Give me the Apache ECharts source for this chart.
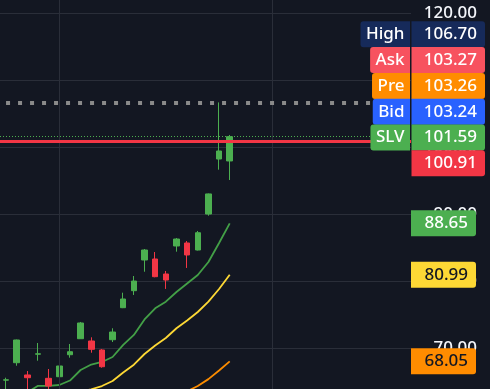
<!DOCTYPE html>
<html><head><meta charset="utf-8">
<script src="https://cdn.jsdelivr.net/npm/echarts@6/dist/echarts.min.js"></script>
<style>html,body{margin:0;padding:0;background:#131722;}#c{width:490px;height:389px;}</style>
</head><body><div id="c"></div>
<script>
// ---- data ----
const candleIdx = [0,1,2,3,4,5,6,7,8,9,10,11,12,13,14,15,16,17,18,19,20,21];
const opens  = [65.25,67.85,66.02,69.12,65.52,65.76,69.04,71.43,71.09,69.75,71.28,76.06,78.60,83.18,83.33,81.09,85.27,85.72,84.67,90.04,98.25,97.96];
const closes = [65.30,71.24,65.61,69.18,64.37,67.36,69.49,73.78,69.85,67.25,72.43,77.36,80.04,84.67,80.69,80.19,86.31,83.93,87.25,93.04,99.45,101.59];
const lows   = [62.50,67.40,63.00,68.15,63.40,64.78,68.60,71.40,69.34,67.10,70.94,76.00,77.96,81.43,80.60,78.86,84.42,81.99,84.60,89.79,96.66,95.12];
const highs  = [65.61,71.30,66.61,70.79,66.91,67.40,70.64,73.93,71.64,69.90,72.99,78.30,80.79,84.82,84.37,81.54,86.46,86.01,87.51,93.10,106.70,101.84];

const maFastStart = 2;
const maFast = [63.42,64.40,64.40,64.52,65.19,66.76,67.58,67.96,68.70,70.50,71.99,74.30,75.97,76.96,78.40,79.67,80.94,82.88,85.72,88.65];
const maMidStart = 7;
const maMid  = [63.55,63.88,64.37,65.12,66.39,67.55,69.15,70.42,71.54,72.99,74.15,75.42,76.96,78.85,80.99];
const maSlowStart = 17;
const maSlow = [63.58,64.37,65.40,66.69,68.05];

const tagNames  = ['High','Ask','Pre','Bid','SLV',''];
const tagValues = [106.70,103.27,103.26,103.24,101.59,100.91];
const vGridAt = [5,25];

// ---- styles ----
const BG = '#131722', GRID = '#2a2e39';
const GREEN = '#4caf50', RED = '#f23645';
const tagFill = ['#162a5a','#f7525f','#ff8c00','#2962ff','#4caf50','#f23645'];
const maColors = ['#43a047','#fdd835','#fb8c00'];
const maTagFill = ['#4caf50','#fdd835','#ff8c00'];
const maTagText = ['#ffffff','#131722','#131722'];
const FONT = 'Noto Sans';
const FW = 500;
const FS = 17;
const FONT_CSS = FW + ' ' + FS + 'px "' + FONT + '"';

const X_MIN = -0.568, X_MAX = 38.02;

const chart = echarts.init(document.getElementById('c'));
const toPairs = (start, arr) => arr.map((v,k)=>[start+k, v]);

const option = {
  backgroundColor: BG,
  animation: false,
  grid: {left: 0, right: 79, top: -53.7, bottom: -26.3, containLabel: false, outerBoundsMode: 'none'},
  xAxis: {type: 'value', min: X_MIN, max: X_MAX, show: false},
  yAxis: {
    type: 'value', position: 'right', min: 60, max: 130, interval: 10,
    axisLine: {show: false}, axisTick: {show: false},
    splitLine: {show: true, lineStyle: {color: GRID, width: 1}},
    axisLabel: {color: '#f4f6fb', fontSize: FS, fontFamily: FONT, fontWeight: FW, margin: 66, align: 'right',
      formatter: v => v.toFixed(2)}
  },
  series: [
    {
      type: 'line', z: 2, data: toPairs(maFastStart, maFast), showSymbol: false, silent: true,
      lineStyle: {color: maColors[0], width: 1.8},
      markLine: {
        silent: true, symbol: 'none', label: {show: false}, animation: false,
        data: [
          {xAxis: vGridAt[0], lineStyle: {color: GRID, width: 1, type: 'solid'}},
          {xAxis: vGridAt[1], lineStyle: {color: GRID, width: 1, type: 'solid'}},
          [{coord: [candleIdx[0], tagValues[0]]}, {coord: [X_MAX, tagValues[0]], lineStyle: {color: '#8a8a8a', width: 4, type: [4, 8]}}],
          {yAxis: tagValues[4], lineStyle: {color: GREEN, width: 1, type: [1, 2]}},
          {yAxis: tagValues[5], lineStyle: {color: RED, width: 3, type: 'solid'}}
        ]
      }
    },
    {type: 'line', z: 2, data: toPairs(maMidStart, maMid), showSymbol: false, silent: true,
      lineStyle: {color: maColors[1], width: 1.8}},
    {type: 'line', z: 2, data: toPairs(maSlowStart, maSlow), showSymbol: false, silent: true,
      lineStyle: {color: maColors[2], width: 1.8}},
    {
      type: 'candlestick', z: 3, barWidth: 6, encode: {x: 0, y: [1, 2, 3, 4]},
      data: candleIdx.map(i => [i, opens[i], closes[i], lows[i], highs[i]]),
      itemStyle: {color: GREEN, color0: RED, borderColor: GREEN, borderColor0: RED, borderWidth: 1}
    }
  ]
};
chart.setOption(option);

// ---- price tags ----
const ctx = document.createElement('canvas').getContext('2d');
ctx.font = FONT_CSS;
const gfx = [];
const axisX = 411, valRight = 485, H = 26;
const stackTop = chart.convertToPixel({yAxisIndex: 0}, 120) + 8;
tagValues.forEach((v, k) => {
  const y = stackTop + k * (H - 0.2);
  if (tagNames[k]) {
    const w = ctx.measureText(tagNames[k]).width + 11;
    gfx.push({type: 'rect', z: 100, shape: {x: axisX - 1 - w, y: y, width: w, height: H, r: [3, 0, 0, 3]}, style: {fill: tagFill[k]}});
    gfx.push({type: 'text', z: 101, x: axisX - 1 - w / 2, y: y + H / 2,
      style: {text: tagNames[k], fill: '#ffffff', font: FONT_CSS, align: 'center', verticalAlign: 'middle'}});
  }
  gfx.push({type: 'rect', z: 100, shape: {x: axisX + 0.5, y: y, width: valRight - axisX - 0.5, height: H, r: [0, 3, 3, 0]}, style: {fill: tagFill[k]}});
  gfx.push({type: 'text', z: 101, x: valRight - 8, y: y + H / 2,
    style: {text: v.toFixed(2), fill: '#ffffff', font: FONT_CSS, align: 'right', verticalAlign: 'middle'}});
});
[maFast, maMid, maSlow].forEach((arr, k) => {
  const v = arr[arr.length - 1];
  const yc = chart.convertToPixel({yAxisIndex: 0}, v);
  gfx.push({type: 'rect', z: 100, shape: {x: axisX, y: yc - H / 2, width: 65, height: H, r: [0, 3, 3, 0]}, style: {fill: maTagFill[k]}});
  gfx.push({type: 'text', z: 101, x: axisX + 57, y: yc,
    style: {text: v.toFixed(2), fill: maTagText[k], font: FONT_CSS, align: 'right', verticalAlign: 'middle'}});
});
chart.setOption({graphic: gfx});
</script></body></html>
